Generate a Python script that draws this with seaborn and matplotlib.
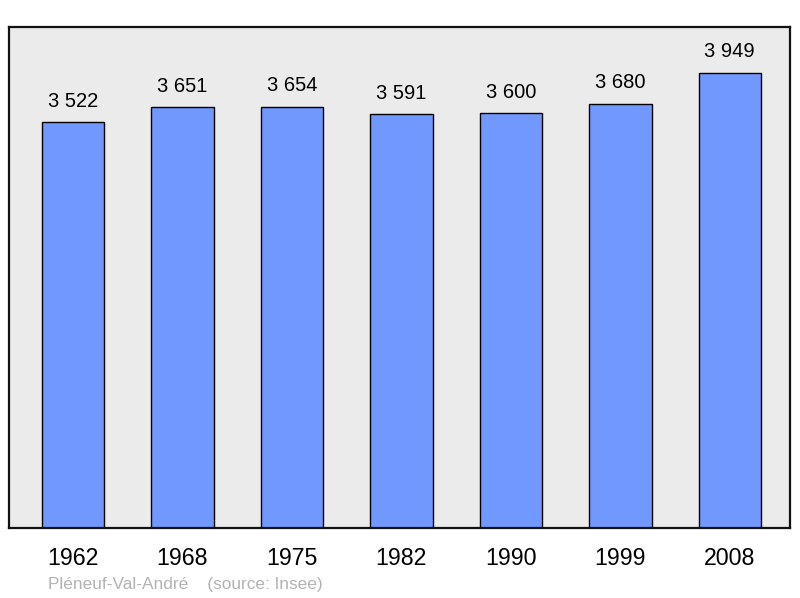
import matplotlib.pyplot as plt
import seaborn as sns
import pandas as pd

years = ['1962', '1968', '1975', '1982', '1990', '1999', '2008']
population = [3522, 3651, 3654, 3591, 3600, 3680, 3949]
value_labels = ['3 522', '3 651', '3 654', '3 591', '3 600', '3 680', '3 949']
footer = 'Pléneuf-Val-André    (source: Insee)'

df = pd.DataFrame({'year': years, 'population': population})

sns.set_style('white')
plt.rcParams['font.family'] = ['Liberation Sans', 'DejaVu Sans']
plt.rcParams['text.color'] = 'black'
plt.rcParams['xtick.color'] = 'black'

fig = plt.figure(figsize=(8, 5.98), dpi=100)
ax = fig.add_axes([9 / 800, 70 / 598, 781 / 800, 501 / 598])
ax.set_facecolor('#ebebeb')

sns.barplot(data=df, x='year', y='population', color='#7098ff', saturation=1,
            width=0.57, edgecolor='black', linewidth=1, ax=ax)

ax.bar_label(ax.containers[0], labels=value_labels, padding=8, fontsize=14.5,
             color='black')

ax.set_xlim(-0.585, 6.55)
ax.set_ylim(0, max(population) * 1.1)
ax.set_yticks([])
ax.set_xlabel('')
ax.set_ylabel('')
ax.tick_params(axis='x', length=0, pad=14, labelsize=16.7, labelcolor='black')

for spine in ax.spines.values():
    spine.set_visible(True)
    spine.set_color('#111111')
    spine.set_linewidth(1.6)
    spine.set_joinstyle('round')

fig.text(48 / 800, 1 - 584 / 598, footer, fontsize=12.4, color='#b3b3b3',
         va='center', ha='left')

fig.savefig('out.png', dpi=100)
